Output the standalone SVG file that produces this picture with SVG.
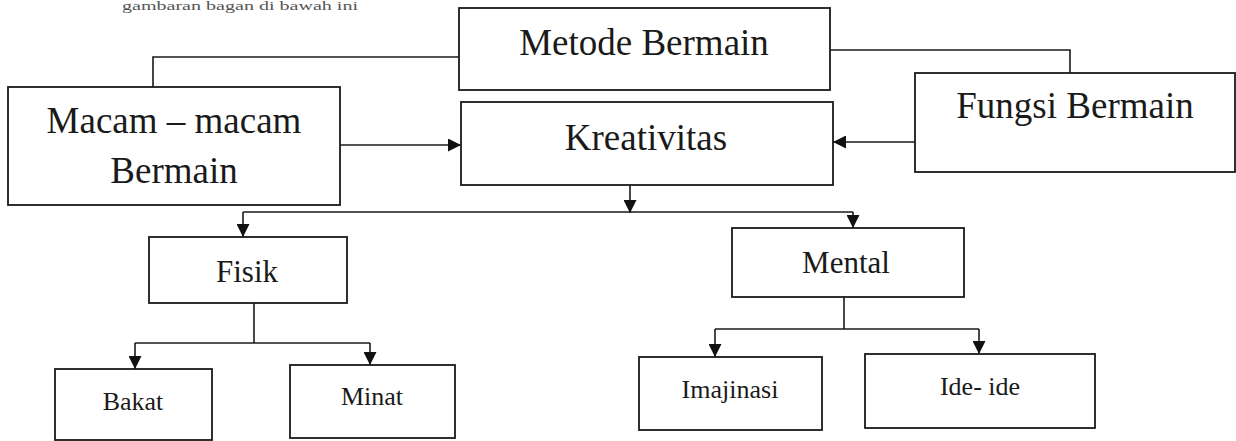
<svg xmlns="http://www.w3.org/2000/svg" width="1236" height="441" viewBox="0 0 1236 441">
<defs>
<marker id="ah" viewBox="0 0 13 13" refX="13" refY="6.5" markerWidth="13" markerHeight="13" markerUnits="userSpaceOnUse" orient="auto">
<path d="M0,0 L13,6.5 L0,13 Z" fill="#111"/>
</marker>
<style>
.box{fill:#fff;stroke:#1a1a1a;stroke-width:1.8}
.ln{fill:none;stroke:#1a1a1a;stroke-width:1.6}
.ar{fill:none;stroke:#1a1a1a;stroke-width:1.6;marker-end:url(#ah)}
.t{fill:#1a1a1a;text-anchor:middle}
.l{font-size:37px}
.m{font-size:31px}
.s{font-size:26px}
</style>
</defs>
<rect width="1236" height="441" fill="#fff"/>
<g font-family="'Liberation Serif', 'DejaVu Serif', serif">
<text x="240" y="10" class="t" style="font-size:12px;fill:#555" textLength="236" lengthAdjust="spacingAndGlyphs">gambaran bagan di bawah ini</text>
<g id="connectors">
<path class="ln" d="M459,57 H153 V87"/>
<path class="ln" d="M830,50 H1070 V73"/>
<path class="ar" d="M340,145 H461"/>
<path class="ar" d="M915,142 H833"/>
<path class="ar" d="M630,185 V213"/>
<path class="ln" d="M243,212 H853"/>
<path class="ar" d="M243,212 V237"/>
<path class="ar" d="M853,212 V228"/>
<path class="ln" d="M254,303 V343"/>
<path class="ln" d="M135,343 H370"/>
<path class="ar" d="M135,343 V369"/>
<path class="ar" d="M370,343 V365"/>
<path class="ln" d="M844,297 V329"/>
<path class="ln" d="M715,329 H979"/>
<path class="ar" d="M715,329 V357"/>
<path class="ar" d="M979,329 V354"/>
</g>
<g id="metode"><rect class="box" x="459" y="8" width="371" height="82"/><text class="t l" x="644" y="55">Metode Bermain</text></g>
<g id="kreativitas"><rect class="box" x="461" y="102" width="372" height="83"/><text class="t l" x="646" y="150">Kreativitas</text></g>
<g id="macam"><rect class="box" x="8" y="87" width="332" height="118"/><text class="t l" x="174" y="133">Macam – macam</text><text class="t l" x="174" y="183">Bermain</text></g>
<g id="fungsi"><rect class="box" x="915" y="73" width="320" height="99"/><text class="t l" x="1075" y="118">Fungsi Bermain</text></g>
<g id="fisik"><rect class="box" x="149" y="237" width="198" height="66"/><text class="t m" x="247" y="282">Fisik</text></g>
<g id="mental"><rect class="box" x="732" y="228" width="232" height="69"/><text class="t m" x="846" y="273">Mental</text></g>
<g id="bakat"><rect class="box" x="55" y="369" width="157" height="71"/><text class="t s" x="133" y="410">Bakat</text></g>
<g id="minat"><rect class="box" x="290" y="365" width="165" height="73"/><text class="t s" x="372" y="405">Minat</text></g>
<g id="imajinasi"><rect class="box" x="639" y="357" width="183" height="73"/><text class="t s" x="730" y="398">Imajinasi</text></g>
<g id="ide"><rect class="box" x="865" y="354" width="230" height="74"/><text class="t s" x="980" y="395">Ide- ide</text></g>
</g>
</svg>
